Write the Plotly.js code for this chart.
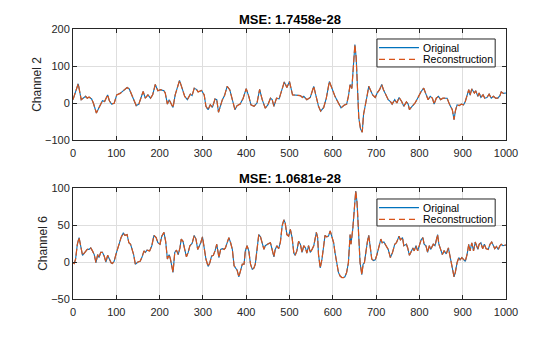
<!DOCTYPE html>
<html>
<head>
<meta charset="utf-8">
<script src="https://cdn.plot.ly/plotly-3.0.1.min.js"></script>
<style>html,body{margin:0;padding:0;background:#fff;}#chart{width:560px;height:337px;}</style>
</head>
<body>
<div id="chart"></div>
<script>
// Channel 2 samples
const ch2Index = [0,12,19,24,29,33,37,43,47,54,60,68,73,80,84,89,95,101,109,119,125,130,138,146,152,157,162,167,173,179,184,190,196,202,210,213,218,222,226,231,236,246,253,258,264,271,275,280,285,289,297,303,307,312,317,322,328,332,336,341,345,350,356,362,368,374,379,386,393,400,406,411,418,425,431,437,444,450,456,460,464,470,476,483,488,494,500,507,516,525,530,533,540,548,556,562,567,572,579,585,592,598,605,613,619,626,632,636,640,644,647,651,654,657,660,664,668,671,675,679,683,687,692,698,703,708,713,717,723,728,733,737,743,748,753,759,764,770,774,777,783,790,796,804,810,815,820,825,830,834,839,844,849,854,859,864,870,876,880,883,887,892,897,902,906,910,914,917,921,927,930,935,938,942,947,951,956,961,966,971,976,981,986,989,994,1000];
const ch2Original = [9,52,9,13,18,13,16,11,0,-27,-13,6,4,22,6,-3,-1,22,26,37,42,38,13,-7,-3,13,31,13,22,13,22,50,33,36,33,27,-3,9,0,-12,22,61,36,18,9,24,20,40,37,30,34,22,-9,-18,-5,-12,11,9,-25,-5,9,20,45,36,9,-18,-7,-3,13,39,18,-5,-9,0,37,9,-14,-5,13,9,-9,13,11,40,57,42,58,22,20,20,15,18,9,15,45,15,-9,-22,-12,13,58,40,18,0,-13,-6,-3,18,50,39,103,158,122,50,-40,-70,-79,-31,-9,18,45,35,22,15,28,36,50,36,22,9,4,-3,9,0,15,4,-9,3,-3,-18,-9,0,13,31,40,24,9,18,13,-3,13,18,9,13,12,13,-5,-18,-45,-22,-5,-7,-3,-5,4,22,36,21,38,27,33,18,27,15,22,13,15,24,13,18,13,13,20,30,26,27];
const ch2Reconstruction = ch2Original.slice();

// Channel 6 samples
const ch6Index = [0,3,6,10,14,18,22,26,29,33,37,41,45,49,53,57,60,64,68,72,76,80,84,88,91,95,99,103,107,111,116,120,125,129,133,136,140,144,150,155,159,164,167,171,177,182,187,192,196,201,205,210,214,218,222,225,227,231,235,239,243,247,250,254,258,262,266,270,275,280,284,288,292,295,299,303,307,312,316,320,324,328,332,337,341,345,349,352,356,360,364,368,372,375,379,383,387,391,395,398,402,406,410,414,418,421,425,429,433,437,441,444,448,452,456,460,464,467,471,475,479,483,487,490,494,498,502,506,510,513,517,521,525,529,533,537,540,544,548,552,556,559,562,565,567,571,575,579,582,586,590,594,598,602,605,609,613,617,621,625,628,632,636,640,642,646,650,653,656,659,663,667,670,673,677,680,683,686,690,694,698,702,706,711,714,718,723,728,733,738,743,747,753,756,761,764,770,773,777,781,785,788,792,796,800,804,808,811,815,819,823,826,832,836,842,845,849,853,857,862,867,870,874,877,880,883,887,891,894,898,902,906,910,914,917,921,925,929,932,935,938,942,946,950,954,959,963,967,971,974,978,982,986,989,993,1000];
const ch6Original = [-1,-2,4,24,33,19,9,12,15,17,17,19,15,10,-1,10,6,13,13,8,0,9,4,-1,-2,1,10,19,26,33,39,36,37,26,24,19,10,-3,0,1,6,15,13,16,15,22,36,33,26,24,35,40,28,4,10,4,-3,-14,13,16,10,19,31,28,17,7,13,22,25,36,31,17,22,26,34,19,4,-6,-1,8,9,15,24,6,17,18,17,19,28,33,26,17,-5,-8,-11,-20,-12,-3,-3,15,22,15,-3,-10,-8,-3,17,37,34,26,17,22,24,25,26,15,7,17,22,18,27,49,57,53,37,35,44,33,12,9,15,28,24,13,22,19,12,22,13,17,22,31,40,33,10,-8,4,22,36,34,35,42,35,26,13,-1,-14,-19,-21,-21,-20,-14,-1,37,24,44,80,96,80,40,-1,-17,-3,-1,17,28,36,22,4,2,3,10,19,31,26,27,22,17,6,13,24,26,35,30,33,22,24,19,9,15,19,15,22,15,22,30,33,24,22,13,22,17,24,22,37,24,17,10,15,11,19,10,-3,-8,-20,-14,-1,6,3,6,3,1,10,24,15,26,15,27,22,17,24,26,18,24,18,17,24,27,22,18,21,17,22,24,22,23];
const ch6Reconstruction = ch6Original.slice();

const seriesNames = ['Original', 'Reconstruction'];
const channelLabels = ['Channel 2', 'Channel 6'];
const mseTitles = ['MSE: 1.7458e-28', 'MSE: 1.0681e-28'];
const xTicks = [0,100,200,300,400,500,600,700,800,900,1000];

const blue = '#0072BD', orange = '#D95319';
const FONT = 'Liberation Sans, Arial, Helvetica, sans-serif';
const recDash = '7px,2.5px';

const traces = [
  {x: ch2Index, y: ch2Original, name: seriesNames[0], mode: 'lines', line: {color: blue, width: 1.1}, xaxis: 'x', yaxis: 'y'},
  {x: ch2Index, y: ch2Reconstruction, name: seriesNames[1], mode: 'lines', line: {color: orange, width: 1.2, dash: recDash}, xaxis: 'x', yaxis: 'y'},
  {x: ch6Index, y: ch6Original, name: seriesNames[0], mode: 'lines', line: {color: blue, width: 1.1}, xaxis: 'x2', yaxis: 'y2'},
  {x: ch6Index, y: ch6Reconstruction, name: seriesNames[1], mode: 'lines', line: {color: orange, width: 1.2, dash: recDash}, xaxis: 'x2', yaxis: 'y2'}
];

const axisCommon = {
  showline: true, linecolor: '#262626', linewidth: 1, mirror: 'ticks',
  ticks: 'inside', ticklen: 4, tickcolor: '#262626', tickwidth: 1,
  showgrid: true, gridcolor: '#dedede', gridwidth: 1, zeroline: false,
  tickfont: {family: FONT, size: 11, color: '#262626'}
};

// Legend boxes (MATLAB-style), placed in each subplot's domain fraction
const legendSpecs = [
  {xr: 'x domain', yr: 'y domain', box: [0.702, 0.658, 0.975, 0.910], rows: [0.8315, 0.727]},
  {xr: 'x2 domain', yr: 'y2 domain', box: [0.702, 0.658, 0.975, 0.901], rows: [0.8225, 0.718]}
];
const legendColors = [blue, orange];
const legendDash = ['solid', '6px,4px'];
const shapes = [];
const annotations = [];
legendSpecs.forEach(function (s) {
  shapes.push({type: 'rect', xref: s.xr, yref: s.yr, x0: s.box[0], y0: s.box[1], x1: s.box[2], y1: s.box[3],
    line: {color: '#262626', width: 1}, fillcolor: '#ffffff', layer: 'above'});
  s.rows.forEach(function (ry, i) {
    shapes.push({type: 'line', xref: s.xr, yref: s.yr, x0: 0.7067, x1: 0.799, y0: ry, y1: ry,
      line: {color: legendColors[i], width: 1.2, dash: legendDash[i]}, layer: 'above'});
    annotations.push({text: seriesNames[i], xref: s.xr, yref: s.yr, x: 0.803, y: ry, xanchor: 'left', yanchor: 'middle',
      showarrow: false, font: {family: FONT, size: 10.5, color: '#000'}});
  });
});
annotations.push(
  {text: '<b>' + mseTitles[0] + '</b>', xref: 'paper', yref: 'paper', x: 0.5, y: 1.037, xanchor: 'center', yanchor: 'middle', showarrow: false, font: {family: FONT, size: 13, color: '#000'}},
  {text: '<b>' + mseTitles[1] + '</b>', xref: 'paper', yref: 'paper', x: 0.5, y: 0.446, xanchor: 'center', yanchor: 'middle', showarrow: false, font: {family: FONT, size: 13, color: '#000'}}
);

const layout = {
  width: 560, height: 337,
  margin: {l: 73, r: 54, t: 29, b: 38},
  paper_bgcolor: '#ffffff', plot_bgcolor: '#ffffff',
  showlegend: false,
  xaxis: Object.assign({}, axisCommon, {domain: [0, 1], range: [0, 1000], tickvals: xTicks, anchor: 'y', ticklabelstandoff: 3}),
  yaxis: Object.assign({}, axisCommon, {domain: [0.5889, 1], range: [-100, 200], dtick: 100, anchor: 'x',
    title: {text: channelLabels[0], font: {family: FONT, size: 12, color: '#262626'}, standoff: 0}}),
  xaxis2: Object.assign({}, axisCommon, {domain: [0, 1], range: [0, 1000], tickvals: xTicks, anchor: 'y2', ticklabelstandoff: 3}),
  yaxis2: Object.assign({}, axisCommon, {domain: [0, 0.4111], range: [-50, 100], dtick: 50, anchor: 'x2',
    title: {text: channelLabels[1], font: {family: FONT, size: 12, color: '#262626'}, standoff: 0}}),
  shapes: shapes,
  annotations: annotations
};

Plotly.newPlot('chart', traces, layout, {staticPlot: true, displayModeBar: false});
</script>
</body>
</html>
